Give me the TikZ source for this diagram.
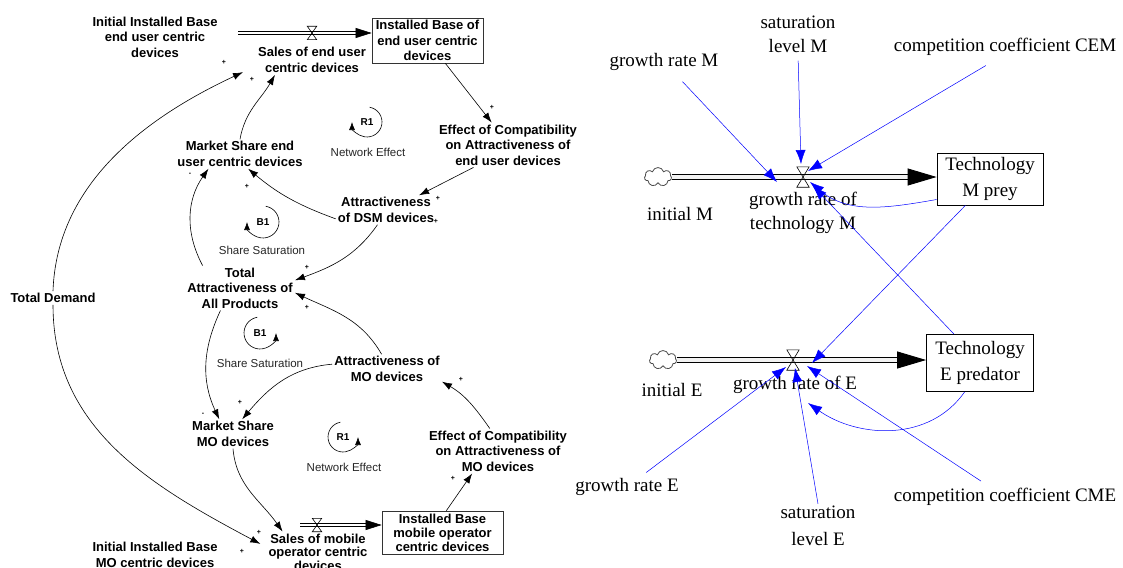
\documentclass[tikz,border=0pt]{standalone}
\usepackage{fontspec}
\setmainfont{Liberation Serif}
\newfontfamily\arialfont{Liberation Sans}
\usetikzlibrary{arrows.meta,shapes.symbols}

\tikzset{
  var/.style={font=\arialfont\bfseries\fontsize{13}{15.5}\selectfont, align=center, inner sep=2pt},
  lvl/.style={var, draw=black!80, line width=0.7pt, inner sep=0pt},
  loopname/.style={font=\arialfont\fontsize{11.5}{12}\selectfont, text=black!85},
  loopid/.style={font=\arialfont\bfseries\fontsize{10}{10}\selectfont},
  pol/.style={font=\arialfont\bfseries\fontsize{7}{7}\selectfont, inner sep=0pt},
  link/.style={-{Latex[length=10pt,width=7pt]}, line width=0.6pt},
  looparrow/.style={-{Latex[length=8pt,width=6pt]}, line width=0.6pt},
  pipe/.style={double=white, double distance=2.4pt, line width=0.6pt, -{Triangle[length=16pt,width=10pt]}},
  bigpipe/.style={double=gray!10, double distance=4pt, line width=0.9pt, -{Triangle[length=29pt,width=17pt]}},
  valve/.style={inner sep=0pt, minimum width=9pt, minimum height=13pt},
  bigvalve/.style={valve, minimum width=12pt, minimum height=20pt},
  tvar/.style={font=\fontsize{19}{24}\selectfont, align=center, inner sep=2pt},
  stock/.style={tvar, font=\fontsize{19}{26}\selectfont, draw, line width=0.8pt, inner sep=0pt},
  source/.style={cloud, cloud puffs=7, aspect=1.4, draw=black!70, line width=0.8pt, minimum width=27pt, minimum height=19pt, inner sep=0pt},
  info/.style={blue, line width=0.5pt, -{Latex[length=14pt,width=10pt]}}
}

\begin{document}
\begin{tikzpicture}[x=1pt,y=1pt]
\useasboundingbox (0,0) rectangle (1123,-567);

\node(initE)[var] at (155,-37) {Initial Installed Base\\end user centric\\devices};
\node(baseE)[lvl, minimum width=111pt, minimum height=45pt] at (427.5,-40.5) {Installed Base of\\end user centric\\devices};
\node(salesE)[var, inner xsep=15pt, font=\arialfont\bfseries\fontsize{13}{16}\selectfont] at (312,-60) {Sales of end user\\centric devices};
\node(effE)[var] at (508,-145) {Effect of Compatibility\\on Attractiveness of\\end user devices};
\node(attrDSM)[var] at (386,-210) {Attractiveness\\of DSM devices};
\node(mse)[var] at (240,-154) {Market Share end\\user centric devices};
\node(total)[var] at (240,-288) {Total\\Attractiveness of\\All Products};
\node(attrMO)[var] at (387,-369) {Attractiveness of\\MO devices};
\node(msmo)[var] at (233,-434) {Market Share\\MO devices};
\node(effMO)[var] at (498,-451) {Effect of Compatibility\\on Attractiveness of\\MO devices};
\node(baseMO)[lvl, minimum width=121pt, minimum height=43pt, font=\arialfont\bfseries\fontsize{13}{14}\selectfont] at (442.5,-532.5) {Installed Base\\mobile operator\\centric devices};
\node(salesMO)[var, inner xsep=8pt, font=\arialfont\bfseries\fontsize{13}{13.5}\selectfont] at (318,-552) {Sales of mobile\\operator centric\\devices};
\node(initMO)[var, font=\arialfont\bfseries\fontsize{13}{16}\selectfont] at (155,-555) {Initial Installed Base\\MO centric devices};
\node(demand)[var] at (53,-298) {Total Demand};

\coordinate (srcE) at (238,-33);
\coordinate (srcMO) at (300,-525);
\draw[pipe] (srcE) -- (srcE -| baseE.west);
\draw[pipe] (srcMO) -- (srcMO -| baseMO.west);
\node(vEnd)[valve] at (312,-33) {};
\node(vMob)[valve] at (317,-525) {};

\draw[link] (demand.north) to[out=88,in=205,looseness=0.95] (salesE.190);
\draw[link] (demand.south) to[out=-90,in=152] (salesMO.172);
\draw[link] (mse.north) to[out=80,in=240] (salesE.202);
\draw[link] (baseE.-52) -- (effE.126);
\draw[link] (effE.213) -- (attrDSM.24);
\draw[link] (attrDSM.190) to[out=160,in=-40] (mse.-61);
\draw[link] (total.149) to[out=118,in=235] (mse.205);
\draw[link] (attrDSM.240) to[out=235,in=20] (total.8);
\draw[link] (attrMO.110) to[out=120,in=-25] (total.-5);
\draw[link] (total.229) to[out=245,in=115] (msmo.133);
\draw[link] (attrMO.175) to[out=185,in=50] (msmo.58);
\draw[link] (msmo.south) to[out=-85,in=125] (salesMO.150);
\draw[link] (baseMO.80) -- (effMO.221);
\draw[link] (effMO.110) to[out=125,in=-30] (attrMO.-13);

\foreach \x/\y/\s [count=\i] in {224/62/+, 252/79/+, 492/107/+, 438/198/+, 436/221/+, 247/186/+, 190/174/-, 307/267/+, 307/307/+, 203/414/-, 240/402/+, 259/532/+, 242/551/+, 453/478/+, 461/379/+}
  \node(pol\i)[pol] at (\x,-\y) {\s};

\node(r1e)[loopid] at (367,-122) {R1};
\node(netE)[loopname] at (368,-152) {Network Effect};
\draw[looparrow] (r1e.center) ++(80:15) arc[start angle=80, end angle=-180, radius=15];
\node(b1e)[loopid] at (263,-222) {B1};
\node(satE1)[loopname] at (262,-250) {Share Saturation};
\draw[looparrow] (b1e.center) ++(80:16) arc[start angle=80, end angle=-180, radius=16];
\node(b1m)[loopid] at (260,-333) {B1};
\node(satM1)[loopname] at (260,-363) {Share Saturation};
\draw[looparrow] (b1m.center) ++(100:16) arc[start angle=100, end angle=360, radius=16];
\node(r1m)[loopid] at (343,-437) {R1};
\node(netM)[loopname] at (344,-467) {Network Effect};
\draw[looparrow] (r1m.center) ++(100:15) arc[start angle=100, end angle=360, radius=15];

\node(grM)[tvar] at (664,-62) {growth rate M};
\node(satM)[tvar] at (798,-34) {saturation\\level M};
\node(cem)[tvar] at (1005,-47) {competition coefficient CEM};
\node(cloudM)[source] at (658,-177) {};
\node(initM)[tvar] at (680,-214) {initial M};
\node(rateM)[tvar] at (803,-213) {growth rate of\\technology M};
\node(boxM)[stock, minimum width=106pt, minimum height=52pt] at (990,-179) {Technology\\M prey};
\node(grE)[tvar] at (627,-487) {growth rate E};
\node(satE)[tvar, font=\fontsize{19}{27}\selectfont] at (818,-526) {saturation\\level E};
\node(cme)[tvar] at (1005,-497) {competition coefficient CME};
\node(cloudE)[source] at (663,-360) {};
\node(initE2)[tvar] at (672,-390) {initial E};
\node(rateE)[tvar] at (795,-385) {growth rate of E};
\node(boxE)[stock, minimum width=107pt, minimum height=57pt] at (980,-363) {Technology\\E predator};

\draw[bigpipe] (cloudM.east) -- (cloudM.east -| boxM.west);
\draw[bigpipe] (cloudE.east) -- (cloudE.east -| boxE.west);
\node(vM)[bigvalve] at (803,-177) {};
\node(vE)[bigvalve] at (793,-360) {};
\foreach \v in {vEnd,vMob,vM,vE}
  \draw[line width=0.6pt] (\v.north west) -- (\v.north east) -- (\v.south west) -- (\v.south east) -- cycle;

\draw[info, shorten <=12pt] (grM) -- ([shift={(-26,-5)}]vM.center);
\draw[info, shorten <=6pt] (satM.south) -- ([shift={(-2,13)}]vM.center);
\draw[info, shorten <=15pt] (cem.240) -- ([shift={(5,6)}]vM.center);
\draw[info] (boxM.201) to[out=190,in=-40] ([shift={(7,-5)}]vM.center);
\draw[info] (boxE.132) -- ([shift={(10,-9)}]vM.center);
\draw[info] (boxM.227) -- ([shift={(19,-3)}]vE.center);
\draw[info, shorten <=6pt] (grE) -- ([shift={(-7,-7)}]vE.center);
\draw[info] (satE.north) -- ([shift={(2,-8)}]vE.center);
\draw[info, shorten <=9pt] (cme) -- ([shift={(14,-6)}]vE.center);
\draw[info] (boxE.242) to[out=235,in=-35] ([shift={(15,-43)}]vE.center);
\end{tikzpicture}
\end{document}
